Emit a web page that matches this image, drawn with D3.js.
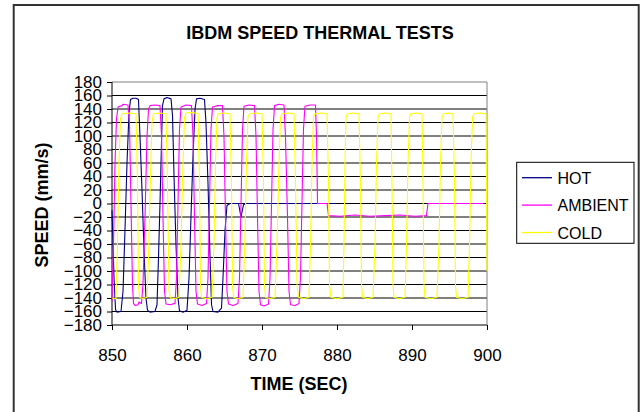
<!DOCTYPE html>
<html><head><meta charset="utf-8">
<script src="https://cdn.jsdelivr.net/npm/d3@7/dist/d3.min.js"></script>
<style>
html,body{margin:0;padding:0;background:#fff;}
svg{display:block;font-family:"Liberation Sans",Arial,sans-serif;}
</style></head>
<body><svg id="c" width="642" height="412"></svg>
<script>
const chartTitle = "IBDM SPEED THERMAL TESTS";
const xTitle = "TIME (SEC)";
const yTitle = "SPEED (mm/s)";
const seriesNames = ["HOT", "AMBIENT", "COLD"];
const seriesColors = ["#000080", "#FF00FF", "#FFFF00"];
const xTicks = [850, 860, 870, 880, 890, 900];
const yTicks = [-180,-160,-140,-120,-100,-80,-60,-40,-20,0,20,40,60,80,100,120,140,160,180];

// [time (s), speed (mm/s)]
const hot = [
 [850.00,-10],[850.27,-110],[850.47,-157],[850.67,-161],[851.20,-160],[851.47,-130],[851.73,-40],
 [852.00,60],[852.27,135],[852.47,154],[852.80,156],[853.20,156],[853.53,154],[853.73,100],
 [854.00,20],[854.27,-70],[854.53,-140],[854.73,-158],[855.07,-161],[855.73,-160],[856.00,-150],
 [856.20,-80],[856.40,0],[856.60,90],[856.73,145],[856.93,155],[857.33,157],[857.87,155],
 [858.07,130],[858.27,40],[858.53,-60],[858.80,-140],[859.00,-159],[859.47,-161],[860.00,-158],
 [860.27,-110],[860.53,-20],[860.80,70],[861.07,140],[861.27,155],[861.73,156],[862.33,154],
 [862.53,120],[862.80,30],[863.07,-80],[863.27,-150],[863.47,-160],[864.13,-161],[864.60,-155],
 [864.80,-110],[865.07,-40],[865.33,-3],[865.73,0],[866.87,0],[867.20,-20],[867.53,-2],
 [867.87,0],[879.73,0]
];
const ambient = [
 [850.00,-145],[850.20,-60],[850.40,60],[850.60,125],[850.80,143],[851.33,145],[851.47,147],
 [852.13,146],[852.33,120],[852.53,0],[852.73,-120],[852.87,-148],[853.07,-151],[853.47,-150],
 [853.60,-146],[853.93,-148],[854.13,-120],[854.40,-20],[854.67,100],[854.87,140],[855.07,145],
 [855.73,146],[856.40,145],[856.60,100],[856.80,-20],[857.00,-130],[857.20,-149],[857.73,-150],
 [858.40,-148],[858.60,-110],[858.80,0],[859.00,110],[859.20,143],[859.87,146],[860.60,145],
 [860.80,100],[861.00,-20],[861.20,-130],[861.40,-149],[862.00,-151],[862.60,-148],[862.80,-110],
 [863.00,0],[863.20,110],[863.40,143],[864.13,145],[864.73,145],[864.93,100],[865.13,-20],
 [865.33,-130],[865.53,-149],[866.13,-151],[866.80,-148],[867.00,-110],[867.20,0],[867.40,110],
 [867.60,144],[868.27,146],[869.00,145],[869.20,100],[869.40,-20],[869.60,-130],[869.80,-150],
 [870.27,-152],[870.87,-149],[871.07,-110],[871.27,0],[871.47,110],[871.67,145],[872.27,147],
 [872.93,146],[873.13,100],[873.40,-20],[873.60,-130],[873.80,-150],[874.40,-151],[874.93,-148],
 [875.13,-110],[875.33,0],[875.53,110],[875.73,144],[876.40,146],[877.13,146],[877.27,100],
 [877.40,0],[878.67,0],[878.87,-18],[880.40,-19],[882.40,-17],[884.40,-19],[886.40,-18],
 [888.40,-17],[890.40,-19],[891.93,-18],[892.13,0],[899.47,0]
];
const cold = [
 [850.00,-140],[850.53,-141],[850.73,-60],[850.93,60],[851.13,125],[851.33,133],[852.27,134],
 [853.20,133],[853.40,30],[853.53,-120],[853.67,-139],[854.13,-141],[854.67,-139],[854.87,-80],
 [855.13,40],[855.33,120],[855.53,133],[856.40,134],[857.20,133],[857.40,30],[857.60,-130],
 [857.80,-140],[858.40,-141],[858.93,-139],[859.20,-60],[859.47,60],[859.67,128],[859.87,134],
 [860.67,135],[861.47,133],[861.67,30],[861.80,-120],[861.93,-139],[862.67,-141],[863.33,-139],
 [863.60,-60],[863.80,60],[864.00,128],[864.20,133],[864.93,134],[865.73,133],[865.93,30],
 [866.07,-120],[866.20,-139],[866.80,-141],[867.47,-139],[867.73,-50],[867.93,60],[868.13,128],
 [868.33,133],[869.20,134],[870.00,133],[870.20,30],[870.33,-120],[870.47,-139],[871.07,-141],
 [871.73,-139],[872.00,-60],[872.27,60],[872.47,128],[872.67,133],[873.47,134],[874.27,133],
 [874.47,30],[874.67,-120],[874.87,-139],[875.60,-141],[876.27,-139],[876.47,-60],[876.67,60],
 [876.87,128],[877.07,133],[877.87,134],[878.67,133],[878.87,30],[879.00,-120],[879.20,-139],
 [880.00,-141],[880.80,-139],[880.93,-60],[881.07,60],[881.20,128],[881.40,133],[882.13,134],
 [882.93,133],[883.13,30],[883.27,-120],[883.40,-139],[884.13,-141],[884.80,-139],[885.07,-60],
 [885.27,60],[885.47,128],[885.67,133],[886.40,134],[887.20,133],[887.33,30],[887.47,-120],
 [887.60,-139],[888.27,-141],[889.07,-139],[889.27,-60],[889.47,60],[889.67,128],[889.87,133],
 [890.53,134],[891.33,133],[891.47,30],[891.60,-120],[891.73,-139],[892.53,-141],[893.33,-139],
 [893.60,-60],[893.80,60],[894.00,128],[894.20,133],[894.80,134],[895.47,133],[895.67,30],
 [895.80,-120],[895.93,-139],[896.67,-141],[897.47,-139],[897.67,-60],[897.87,60],[898.07,128],
 [898.27,133],[899.07,134],[899.87,133],[900.00,-100]
];
const seriesData = [hot, ambient, cold];

const svg = d3.select("#c");
const x = d3.scaleLinear().domain([850, 900]).range([112, 487]);
const y = d3.scaleLinear().domain([-180, 180]).range([325, 82]);

// outer chart border
svg.append("rect").attr("x", 13.7).attr("y", 5).attr("width", 625).attr("height", 440)
  .attr("fill", "#fff").attr("stroke", "#333").attr("stroke-width", 2);

// gridlines
svg.append("g").selectAll("line").data(yTicks.filter(v => v > -180)).join("line")
  .attr("x1", x(850)).attr("x2", x(900))
  .attr("y1", d => y(d)).attr("y2", d => y(d))
  .attr("stroke", d => d === 180 ? "#808080" : "#000").attr("stroke-width", 1);
// plot area right border
svg.append("line").attr("x1", x(900)).attr("x2", x(900)).attr("y1", y(180)).attr("y2", y(-180))
  .attr("stroke", "#808080").attr("stroke-width", 1);

// axes
const yAxis = d3.axisLeft(y).tickValues(yTicks).tickSize(5).tickPadding(5).tickFormat(d3.format("d"));
const gy = svg.append("g").attr("transform", `translate(${x(850)},0)`).call(yAxis);
const xAxis = d3.axisBottom(x).tickValues(xTicks).tickSize(5).tickPadding(19).tickFormat(d3.format("d"));
const gx = svg.append("g").attr("transform", `translate(0,${y(-180)})`).call(xAxis);
[gx, gy].forEach(g => {
  g.select(".domain").attr("stroke", "#000").attr("stroke-width", 1);
  g.selectAll(".tick line").attr("stroke", "#000");
  g.selectAll("text").attr("fill", "#000").style("font-size", "17px")
    .style("font-family", '"Liberation Sans",Arial,sans-serif');
});
gx.select(".domain").attr("d", `M${x(850)},0H${x(900)}`);
gy.select(".domain").attr("d", `M0,${y(-180)}V${y(180)}`);

// series
const line = d3.line().x(d => x(d[0])).y(d => y(d[1]));
seriesData.forEach((s, i) => {
  svg.append("path").datum(s).attr("d", line).attr("fill", "none")
    .attr("stroke", seriesColors[i]).attr("stroke-width", 1.1).attr("stroke-linejoin", "round");
});

// titles
svg.append("text").attr("x", 320).attr("y", 39).attr("text-anchor", "middle")
  .style("font-weight", "bold").style("font-size", "18px").text(chartTitle);
svg.append("text").attr("x", 299).attr("y", 390).attr("text-anchor", "middle")
  .style("font-weight", "bold").style("font-size", "18px").text(xTitle);
svg.append("text").attr("transform", "translate(48,205) rotate(-90)").attr("text-anchor", "middle")
  .style("font-weight", "bold").style("font-size", "18px").text(yTitle);

// legend
const lg = svg.append("g");
lg.append("rect").attr("x", 516.7).attr("y", 162.3).attr("width", 117.3).attr("height", 81)
  .attr("fill", "#fff").attr("stroke", "#000").attr("stroke-width", 1);
seriesNames.forEach((n, i) => {
  const cy = 177.7 + i * 27.4;
  lg.append("line").attr("x1", 522).attr("x2", 552).attr("y1", cy).attr("y2", cy)
    .attr("stroke", seriesColors[i]).attr("stroke-width", 1.3);
  lg.append("text").attr("x", 557.5).attr("y", cy + 6).style("font-size", "16px").text(n);
});
</script></body></html>
